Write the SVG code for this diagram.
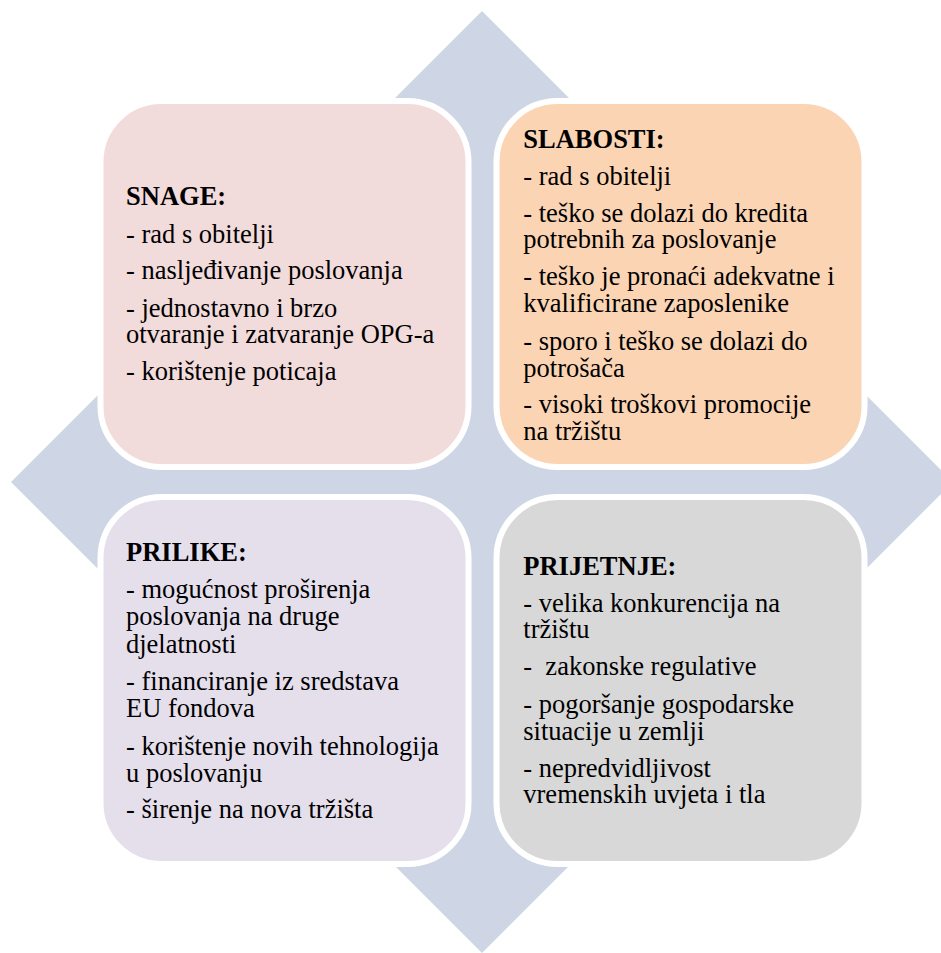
<svg xmlns="http://www.w3.org/2000/svg" width="941" height="953" viewBox="0 0 941 953">
<style>
.box{stroke:#FFFFFF;stroke-width:6}
.t{font-family:"Liberation Serif","Times New Roman",serif;font-size:26.5px;fill:#000000}
.h{font-weight:bold}
</style>
<rect width="941" height="953" fill="#FFFFFF"/>
<polygon id="diamond" points="482,11 953,482 482,953 11,482" fill="#CED6E5"/>
<g id="snage">
<rect class="box" x="100.5" y="101" width="368" height="366" rx="61" ry="61" fill="#F2DBDB"/>
<text class="t h" x="126" y="205">SNAGE:</text>
<text class="t" x="126" y="242.7">- rad s obitelji</text>
<text class="t" x="126" y="279.3">- nasljeđivanje poslovanja</text>
<text class="t" x="126" y="316.7">- jednostavno i brzo</text>
<text class="t" x="126" y="343.3">otvaranje i zatvaranje OPG-a</text>
<text class="t" x="126" y="380">- korištenje poticaja</text>
</g>
<g id="slabosti">
<rect class="box" x="496.5" y="101" width="368" height="366" rx="61" ry="61" fill="#FBD4B4"/>
<text class="t h" x="523.3" y="148.3">SLABOSTI:</text>
<text class="t" x="523.3" y="185">- rad s obitelji</text>
<text class="t" x="523.3" y="221.7">- teško se dolazi do kredita</text>
<text class="t" x="523.3" y="248.3">potrebnih za poslovanje</text>
<text class="t" x="523.3" y="285">- teško je pronaći adekvatne i</text>
<text class="t" x="523.3" y="311.7">kvalificirane zaposlenike</text>
<text class="t" x="523.3" y="350">- sporo i teško se dolazi do</text>
<text class="t" x="523.3" y="376.7">potrošača</text>
<text class="t" x="523.3" y="413.3">- visoki troškovi promocije</text>
<text class="t" x="523.3" y="440">na tržištu</text>
</g>
<g id="prilike">
<rect class="box" x="100.5" y="497" width="368" height="367" rx="61" ry="61" fill="#E5DFEC"/>
<text class="t h" x="126" y="560.7">PRILIKE:</text>
<text class="t" x="126" y="598.3">- mogućnost proširenja</text>
<text class="t" x="126" y="625">poslovanja na druge</text>
<text class="t" x="126" y="652.7">djelatnosti</text>
<text class="t" x="126" y="690">- financiranje iz sredstava</text>
<text class="t" x="126" y="716.7">EU fondova</text>
<text class="t" x="126" y="755">- korištenje novih tehnologija</text>
<text class="t" x="126" y="781.7">u poslovanju</text>
<text class="t" x="126" y="818.3">- širenje na nova tržišta</text>
</g>
<g id="prijetnje">
<rect class="box" x="496.5" y="497" width="368" height="367" rx="61" ry="61" fill="#D8D8D8"/>
<text class="t h" x="523.3" y="575">PRIJETNJE:</text>
<text class="t" x="523.3" y="611.7">- velika konkurencija na</text>
<text class="t" x="523.3" y="638.3">tržištu</text>
<text class="t" x="523.3" y="675" xml:space="preserve">-  zakonske regulative</text>
<text class="t" x="523.3" y="713.3">- pogoršanje gospodarske</text>
<text class="t" x="523.3" y="740">situacije u zemlji</text>
<text class="t" x="523.3" y="776.7">- nepredvidljivost</text>
<text class="t" x="523.3" y="803.3">vremenskih uvjeta i tla</text>
</g>
<g id="connectors"></g>
</svg>
